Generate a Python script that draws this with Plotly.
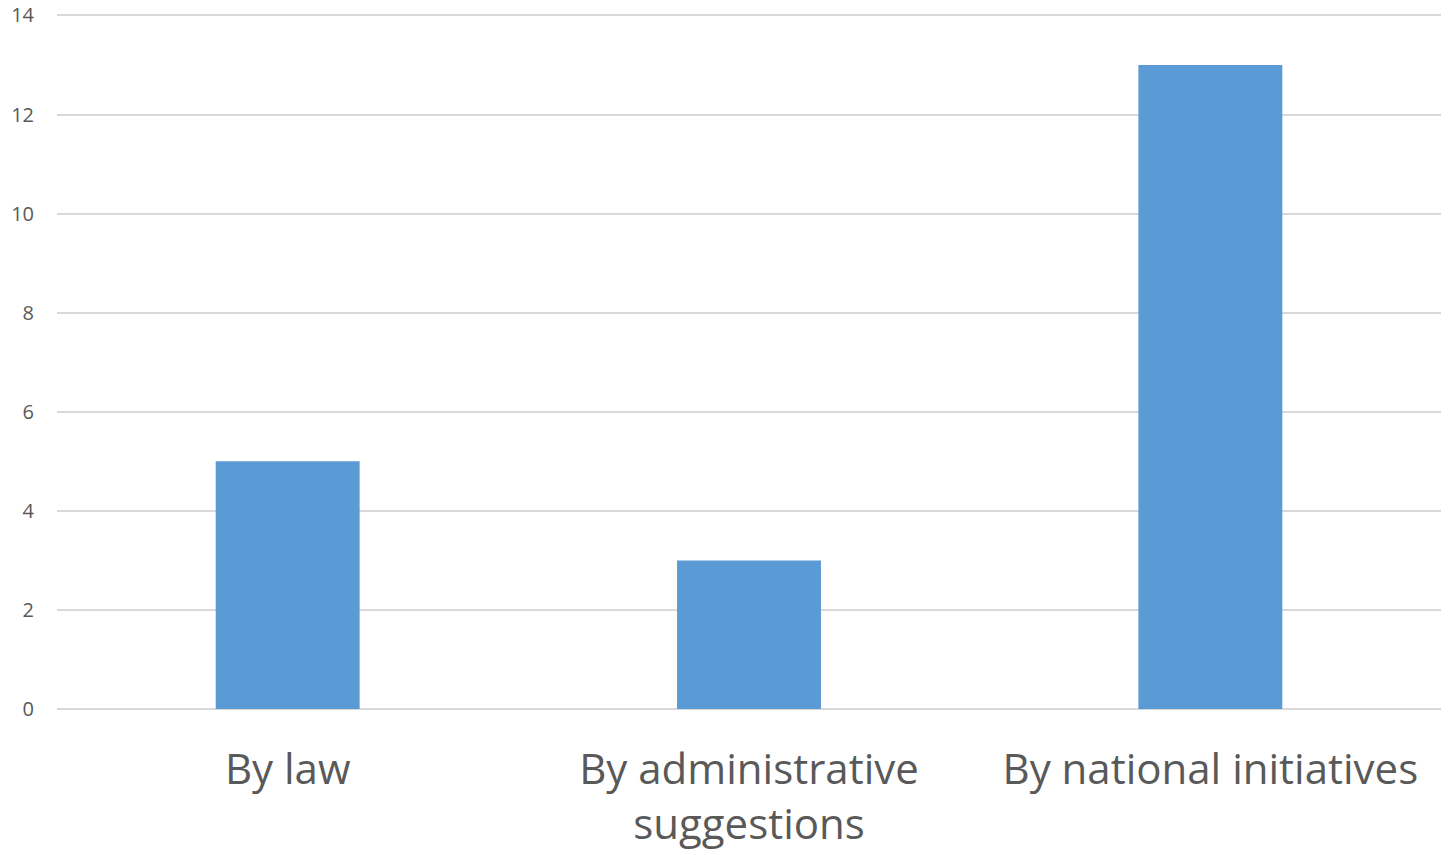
import plotly.graph_objects as go

categories = ["By law", "By administrative<br>suggestions", "By national initiatives"]
values = [5, 3, 13]
y_ticks = [0, 2, 4, 6, 8, 10, 12, 14]

fig = go.Figure(go.Bar(x=categories, y=values, marker=dict(color="#5b9bd5", line=dict(width=0)), width=0.312))

fig.update_layout(
    width=1451, height=855,
    margin=dict(l=57, r=10, t=14, b=146),
    paper_bgcolor="white", plot_bgcolor="white",
    font=dict(family="Open Sans, sans-serif", color="#595959"),
    showlegend=False,
    bargap=0.688,
)
fig.update_xaxes(tickfont=dict(size=42, color="#595959"), showgrid=False, showline=False, ticks="",
                 ticklabelstandoff=32, automargin=False)
fig.update_yaxes(range=[0, 14.03], tickvals=y_ticks, tickfont=dict(size=20, color="#595959"),
                 gridcolor="#d9d9d9", gridwidth=1.5, zeroline=True, zerolinecolor="#d9d9d9", zerolinewidth=1.5,
                 showline=False, ticks="", ticklabelstandoff=22, automargin=False,
                 ticklabeloverflow="allow")

fig.write_html("out.html", config={"displayModeBar": False},
               post_script="document.body.style.margin='0px';document.body.style.overflow='hidden';")
